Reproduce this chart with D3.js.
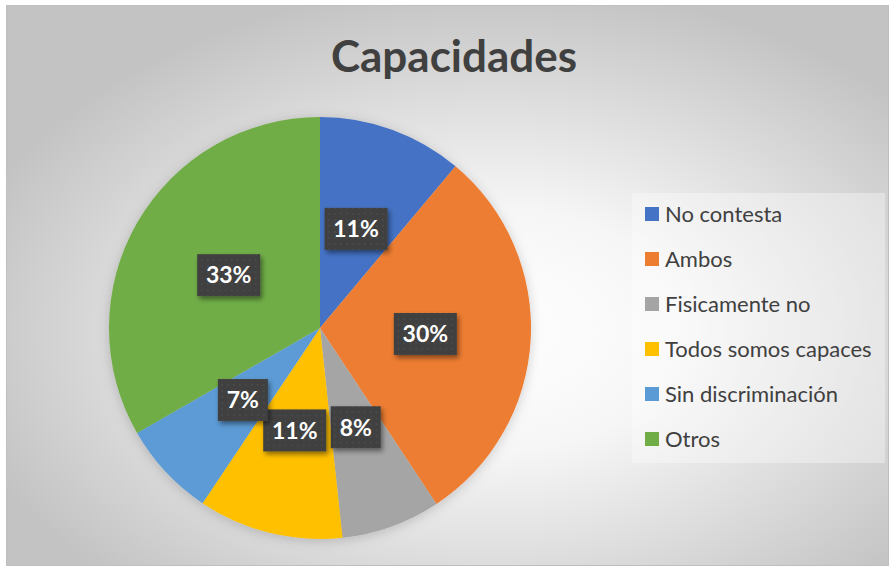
<!DOCTYPE html>
<html>
<head>
<meta charset="utf-8">
<script src="https://cdn.jsdelivr.net/npm/d3@7"></script>
<style>
  html, body { margin: 0; padding: 0; background: #fff; }
  svg { display: block; }
</style>
</head>
<body>
<svg id="chart"></svg>
<script>
// Data
const categories = ["No contesta", "Ambos", "Fisicamente no", "Todos somos capaces", "Sin discriminación", "Otros"];
const values = [11.1, 29.6, 7.6, 11.1, 7.3, 33.3];
const colors = ["#4472C4", "#ED7D31", "#A5A5A5", "#FFC000", "#5B9BD5", "#70AD47"];
const title = "Capacidades";

const width = 889, height = 566;
const svg = d3.select("#chart").attr("width", width).attr("height", height);
const defs = svg.append("defs");

// background gradient like the Excel preset
const grad = defs.append("radialGradient").attr("id", "bg")
    .attr("cx", "55%").attr("cy", "58%").attr("r", "62%");
grad.append("stop").attr("offset", "0%").attr("stop-color", "#ffffff");
grad.append("stop").attr("offset", "35%").attr("stop-color", "#f6f6f6");
grad.append("stop").attr("offset", "100%").attr("stop-color", "#c3c3c3");

// soft shadow for pie and label boxes
const sh = defs.append("filter").attr("id", "shadow")
    .attr("x", "-30%").attr("y", "-30%").attr("width", "160%").attr("height", "160%");
sh.append("feDropShadow").attr("dx", 2).attr("dy", 3).attr("stdDeviation", 2.5)
    .attr("flood-color", "#000").attr("flood-opacity", 0.45);

const pieShadow = defs.append("filter").attr("id", "pieShadow")
    .attr("x", "-20%").attr("y", "-20%").attr("width", "140%").attr("height", "140%");
pieShadow.append("feDropShadow").attr("dx", 0).attr("dy", 2).attr("stdDeviation", 6)
    .attr("flood-color", "#000").attr("flood-opacity", 0.18);

// dotted pattern inside the label boxes
const pat = defs.append("pattern").attr("id", "dots")
    .attr("width", 6).attr("height", 6).attr("patternUnits", "userSpaceOnUse");
pat.append("rect").attr("width", 6).attr("height", 6).attr("fill", "#404040");
pat.append("circle").attr("cx", 3).attr("cy", 3).attr("r", 0.9).attr("fill", "#4c4c4c");

// chart area
svg.append("rect")
    .attr("x", 6.5).attr("y", 5.5)
    .attr("width", width - 7).attr("height", height - 6)
    .attr("fill", "url(#bg)")
    .attr("stroke", "#bfbfbf").attr("stroke-width", 1);

// title
svg.append("text")
    .attr("x", 454).attr("y", 72)
    .attr("text-anchor", "middle")
    .attr("font-family", "Lato, 'Open Sans', sans-serif")
    .attr("font-weight", "bold")
    .attr("font-size", 44)
    .attr("fill", "#404040")
    .text(title);

// pie
const cx = 320, cy = 328, radius = 211;
const total = d3.sum(values);
const pie = d3.pie().sort(null)(values);
const arc = d3.arc().innerRadius(0).outerRadius(radius);
const color = d3.scaleOrdinal().domain(categories).range(colors);

const g = svg.append("g").attr("transform", `translate(${cx},${cy})`);

g.append("g").attr("filter", "url(#pieShadow)")
    .selectAll("path")
    .data(pie)
    .join("path")
    .attr("d", arc)
    .attr("fill", (d, i) => color(categories[i]));

// data labels in dark boxes
const pct = d => Math.round(d.data / total * 100);
const labels = g.selectAll("g.lbl")
    .data(pie)
    .join("g")
    .attr("class", "lbl")
    .attr("transform", d => `translate(${arc.centroid(d)})`);

labels.append("rect")
    .attr("x", d => pct(d) >= 10 ? -31.5 : -25)
    .attr("y", -21)
    .attr("width", d => pct(d) >= 10 ? 63 : 50)
    .attr("height", 42)
    .attr("fill", "url(#dots)")
    .attr("filter", "url(#shadow)");

labels.append("text")
    .attr("text-anchor", "middle")
    .attr("dy", "0.36em")
    .attr("font-family", "Lato, 'Open Sans', sans-serif")
    .attr("font-weight", "bold")
    .attr("font-size", 23)
    .attr("fill", "#ffffff")
    .text(d => pct(d) + "%");

// legend
const legend = svg.append("g");
legend.append("rect")
    .attr("x", 632).attr("y", 193)
    .attr("width", 253).attr("height", 270)
    .attr("fill", "#ffffff").attr("fill-opacity", 0.35);

const item = legend.selectAll("g.item")
    .data(categories)
    .join("g")
    .attr("class", "item")
    .attr("transform", (d, i) => `translate(645,${214 + i * 45})`);

item.append("rect")
    .attr("x", 0).attr("y", -7)
    .attr("width", 14).attr("height", 14)
    .attr("fill", d => color(d));

item.append("text")
    .attr("x", 20).attr("dy", "0.35em")
    .attr("font-family", "Lato, 'Open Sans', sans-serif")
    .attr("font-size", 22)
    .attr("fill", "#404040")
    .text(d => d);
</script>
</body>
</html>
